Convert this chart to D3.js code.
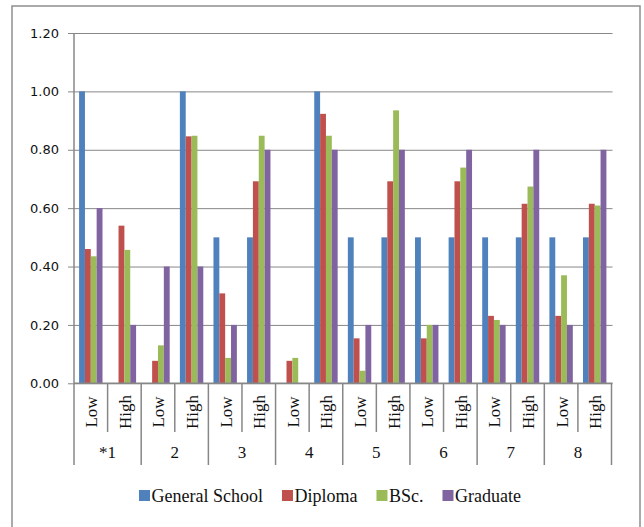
<!DOCTYPE html>
<html>
<head>
<meta charset="utf-8">
<script src="https://cdn.jsdelivr.net/npm/d3@7"></script>
<style>
  html, body { margin: 0; padding: 0; background: #fff; }
  svg { display: block; }
</style>
</head>
<body>
<svg id="chart" width="644" height="527"></svg>
<script>
const groups = ["*1", "2", "3", "4", "5", "6", "7", "8"];
const levels = ["Low", "High"];
const seriesNames = ["General School", "Diploma", "BSc.", "Graduate"];
const seriesColors = ["#4F81BD", "#C0504D", "#9BBB59", "#8064A2"];
const generalSchool = [1.00, 0, 0, 1.00, 0.50, 0.50, 0, 1.00, 0.50, 0.50, 0.50, 0.50, 0.50, 0.50, 0.50, 0.50];
const diploma = [0.46, 0.54, 0.077, 0.846, 0.308, 0.692, 0.077, 0.923, 0.154, 0.692, 0.154, 0.692, 0.231, 0.615, 0.231, 0.615];
const bsc = [0.435, 0.457, 0.13, 0.848, 0.087, 0.848, 0.087, 0.848, 0.043, 0.935, 0.20, 0.739, 0.217, 0.674, 0.37, 0.609];
const graduate = [0.60, 0.20, 0.40, 0.40, 0.20, 0.80, 0, 0.80, 0.20, 0.80, 0.20, 0.80, 0.20, 0.80, 0.20, 0.80];
const yTicks = [0, 0.2, 0.4, 0.6, 0.8, 1.0, 1.2];

const seriesValues = [generalSchool, diploma, bsc, graduate];
const cats = [];
groups.forEach(g => levels.forEach(l => cats.push({ id: g + "|" + l, group: g, level: l })));

const svg = d3.select("#chart");
const mLeft = 74, mRight = 611.5, mTop = 33, mBottom = 383.3;
const gridColor = "#878787";
const serif = "'Liberation Serif', 'Times New Roman', serif";

// outer frame
svg.append("rect").attr("x", 12).attr("y", 6).attr("width", 628).attr("height", 530)
  .attr("fill", "none").attr("stroke", "#8e8e8e").attr("stroke-width", 1.5);

const x = d3.scaleBand().domain(cats.map(c => c.id)).range([mLeft, mRight]).paddingInner(0).paddingOuter(0);
const xs = d3.scaleBand().domain(seriesNames).range([0, x.bandwidth()]).paddingInner(0).paddingOuter(0.87);
const y = d3.scaleLinear().domain([0, 1.2]).range([mBottom, mTop]);

// gridlines + y axis
const yAxis = d3.axisLeft(y).tickValues(yTicks).tickFormat(d3.format(".2f")).tickSize(-(mRight - mLeft + 1)).tickPadding(15);
const gy = svg.append("g").attr("transform", `translate(${mLeft},0)`).call(yAxis);
gy.select(".domain").remove();
gy.selectAll(".tick line").attr("stroke", gridColor).attr("stroke-width", 1).attr("x1", -6);
gy.selectAll(".tick text").attr("font-family", "DejaVu Sans").attr("font-size", 13).attr("fill", "#111");

// bars
seriesNames.forEach((s, si) => {
  svg.append("g").selectAll("rect").data(cats).join("rect")
    .attr("x", c => x(c.id) + xs(s))
    .attr("width", xs.bandwidth())
    .attr("y", (c, i) => y(seriesValues[si][i]))
    .attr("height", (c, i) => y(0) - y(seriesValues[si][i]))
    .attr("fill", seriesColors[si]);
});

// y axis line
svg.append("line").attr("x1", mLeft).attr("x2", mLeft).attr("y1", mTop).attr("y2", mBottom)
  .attr("stroke", gridColor).attr("stroke-width", 1.5);

// x axis line
svg.append("line").attr("x1", mLeft).attr("x2", mRight + 1).attr("y1", mBottom).attr("y2", mBottom)
  .attr("stroke", gridColor).attr("stroke-width", 1.5);

// category separators
const axisG = svg.append("g");
cats.forEach((c, i) => {
  const xb = x(c.id);
  const isGroupStart = c.level === "Low";
  axisG.append("line").attr("x1", xb).attr("x2", xb).attr("y1", mBottom)
    .attr("y2", isGroupStart ? 465 : 432).attr("stroke", gridColor).attr("stroke-width", 1.5);
});
axisG.append("line").attr("x1", mRight).attr("x2", mRight).attr("y1", mBottom).attr("y2", 465)
  .attr("stroke", gridColor).attr("stroke-width", 1.5);

// level labels (rotated)
svg.append("g").selectAll("text").data(cats).join("text")
  .attr("transform", c => `translate(${x(c.id) + x.bandwidth() / 2 + 1},412) rotate(-90)`)
  .attr("text-anchor", "middle").attr("dominant-baseline", "central")
  .attr("font-family", serif).attr("font-size", 17).attr("fill", "#111")
  .text(c => c.level);

// group labels
svg.append("g").selectAll("text").data(groups).join("text")
  .attr("x", g => x(g + "|Low") + x.bandwidth())
  .attr("y", 452).attr("text-anchor", "middle").attr("dominant-baseline", "central")
  .attr("font-family", serif).attr("font-size", 17).attr("fill", "#111")
  .text(g => g);

// legend
const lg = svg.append("g");
let lx = 139;
seriesNames.forEach((s, i) => {
  lg.append("rect").attr("x", lx).attr("y", 490).attr("width", 11).attr("height", 11).attr("fill", seriesColors[i]);
  const t = lg.append("text").attr("x", lx + 12.5).attr("y", 496).attr("dominant-baseline", "central")
    .attr("font-family", serif).attr("font-size", 18).attr("fill", "#111").text(s);
  lx += 12.5 + t.node().getComputedTextLength() + 19;
});
</script>
</body>
</html>
